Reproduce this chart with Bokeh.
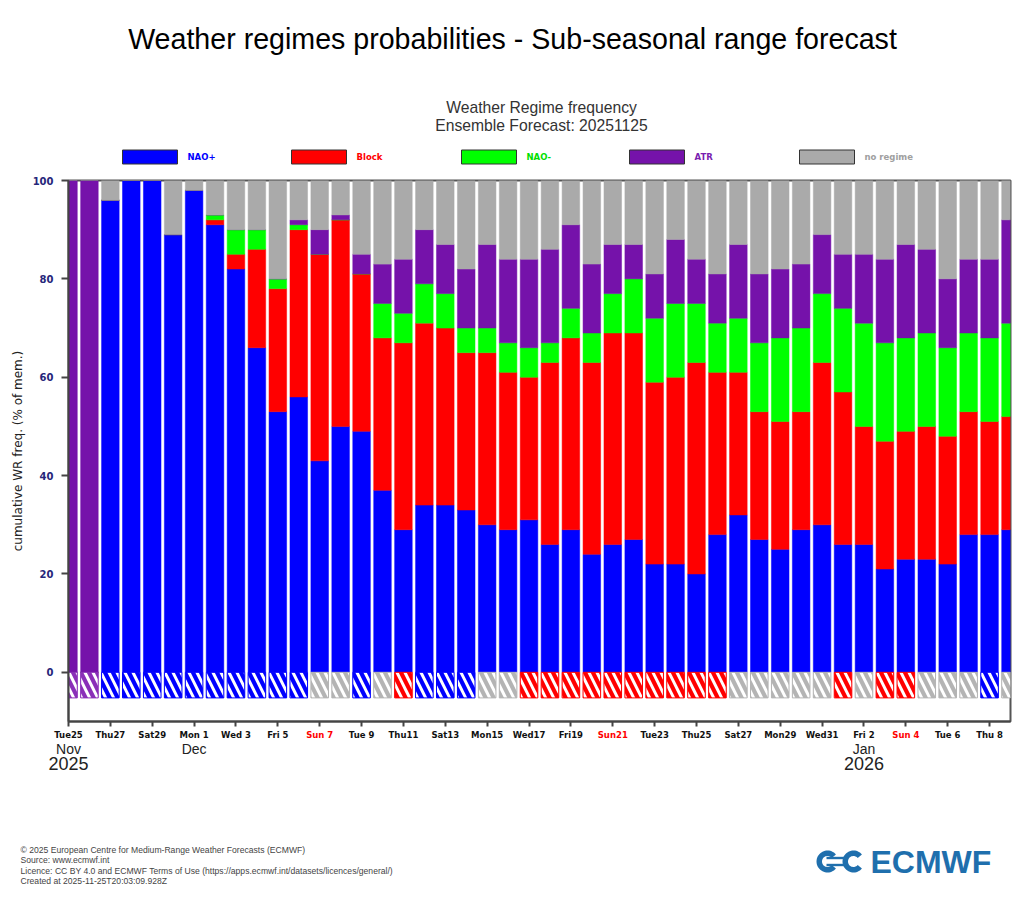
import math
import pandas as pd
from bokeh.plotting import figure
from bokeh.layouts import column, row
from bokeh.models import ColumnDataSource, Range1d, FixedTicker
from bokeh.core.properties import value
from bokeh.embed import file_html
from bokeh.resources import INLINE

# ---------------- data ----------------
dates = pd.date_range("2025-11-25", "2026-01-09", freq="D")
day = [(d - dates[0]).days for d in dates]

nao_plus = [0, 0, 96, 100, 100, 89, 98, 91, 82, 66, 53, 56, 43, 50, 49, 37, 29, 34, 34, 33,
            30, 29, 31, 26, 29, 24, 26, 27, 22, 22, 20, 28, 32, 27, 25, 29, 30, 26, 26, 21,
            23, 23, 22, 28, 28, 29]
block = [0, 0, 0, 0, 0, 0, 0, 1, 3, 20, 25, 34, 42, 42, 32, 31, 38, 37, 36, 32,
         35, 32, 29, 37, 39, 39, 43, 42, 37, 38, 43, 33, 29, 26, 26, 24, 33, 31, 24, 26,
         26, 27, 26, 25, 23, 23]
nao_minus = [0, 0, 0, 0, 0, 0, 0, 1, 5, 4, 2, 1, 0, 0, 0, 7, 6, 8, 7, 5,
             5, 6, 6, 4, 6, 6, 8, 11, 13, 15, 12, 10, 11, 14, 17, 17, 14, 17, 21, 20,
             19, 19, 18, 16, 17, 19]
atr = [100, 100, 0, 0, 0, 0, 0, 0, 0, 0, 0, 1, 5, 1, 4, 8, 11, 11, 10, 12,
       17, 17, 18, 19, 17, 14, 10, 7, 9, 13, 9, 10, 15, 14, 14, 13, 12, 11, 14, 17,
       19, 17, 14, 15, 16, 21]
no_regime = [0, 0, 4, 0, 0, 11, 2, 7, 10, 10, 20, 8, 10, 7, 15, 17, 16, 10, 13, 18,
             13, 16, 16, 14, 9, 17, 13, 13, 19, 12, 16, 19, 13, 19, 18, 17, 11, 15, 15, 16,
             13, 14, 20, 16, 16, 8]
dominant = ["ATR", "ATR", "NAO+", "NAO+", "NAO+", "NAO+", "NAO+", "NAO+", "NAO+", "NAO+",
            "NAO+", "NAO+", "none", "none", "NAO+", "none", "Block", "NAO+", "NAO+", "NAO+",
            "none", "none", "Block", "Block", "Block", "Block", "Block", "Block", "Block", "Block",
            "Block", "Block", "none", "none", "none", "none", "none", "Block", "none", "Block",
            "Block", "none", "none", "none", "NAO+", "none"]

regimes = ["NAO+", "Block", "NAO-", "ATR", "no regime"]
regime_colors = ["#0000ff", "#ff0000", "#00ff00", "#7512aa", "#aaaaaa"]
legend_text_colors = ["#0000ff", "#ff0000", "#00e000", "#7a1fb0", "#a0a0a0"]
hatch_colors = {"NAO+": "#0000ff", "Block": "#ff0000", "NAO-": "#00ff00",
                "ATR": "#8a2fb8", "none": "#b4b4b4"}

tick_days = [0, 2, 4, 6, 8, 10, 12, 14, 16, 18, 20, 22, 24, 26, 28, 30, 32, 34, 36, 38, 40, 42, 44]
tick_labels = ["Tue25", "Thu27", "Sat29", "Mon 1", "Wed 3", "Fri 5", "Sun 7", "Tue 9", "Thu11",
               "Sat13", "Mon15", "Wed17", "Fri19", "Sun21", "Tue23", "Thu25", "Sat27", "Mon29",
               "Wed31", "Fri 2", "Sun 4", "Tue 6", "Thu 8"]
month_days = [0, 6, 38]
month_labels = ["Nov", "Dec", "Jan"]
year_days = [0, 38]
year_labels = ["2025", "2026"]
y_ticks = [0, 20, 40, 60, 80, 100]

footer = ["\u00a9 2025 European Centre for Medium-Range Weather Forecasts (ECMWF)",
          "Source: www.ecmwf.int",
          "Licence: CC BY 4.0 and ECMWF Terms of Use (https://apps.ecmwf.int/datasets/licences/general/)",
          "Created at 2025-11-25T20:03:09.928Z"]

# ---------------- page geometry ----------------
W, H = 1024, 922
FL, FR, FT, FB = 68, 1010, 180, 721      # chart frame edges on the page
TOP_H = 176                               # header strip height
CH_TOP, CH_BOT = FT - TOP_H, 8            # chart borders above / below the frame
CH_H = CH_TOP + (FB - FT) + CH_BOT
BOT_Y0 = TOP_H + CH_H                     # page y where the footer strip starts
BOT_H = H - BOT_Y0
X0, X1 = 0, 45                            # day range shown in the frame
ppd = (FR - FL) / (X1 - X0)


def plain_fig(h, y_top):
    f = figure(width=W, height=h, x_range=Range1d(0, W), y_range=Range1d(y_top + h, y_top),
               x_axis_type=None, y_axis_type=None, output_backend="svg",
               toolbar_location=None, min_border=0)
    f.outline_line_color = None
    f.background_fill_color = "white"
    f.border_fill_color = "white"
    return f


def txt(f, x, y, text, size, color="black", font="Liberation Sans", style="normal",
        align="left", baseline="middle", **kw):
    f.text(x=x, y=y, text=text, text_font=value(font), text_font_size=value(f"{size}px"),
           text_font_style=style, text_color=color, text_align=align,
           text_baseline=baseline, **kw)


# ---------------- header ----------------
top = plain_fig(TOP_H, 0)
txt(top, [512], [38], ["Weather regimes probabilities - Sub-seasonal range forecast"], 28.6,
    align="center")
txt(top, [541, 541], [107, 125], ["Weather Regime frequency", "Ensemble Forecast: 20251125"],
    15.7, color="#333333", align="center")
leg_x = [122, 291, 461, 629, 799]
top.quad(left=leg_x, right=[v + 55 for v in leg_x], top=[149.5] * 5, bottom=[163.5] * 5,
         fill_color=regime_colors, line_color="#333333", line_width=1)
txt(top, [v + 65 for v in leg_x], [156.5] * 5, regimes, 8.5, color=legend_text_colors,
    font="DejaVu Sans", style="bold")

# ---------------- chart ----------------
p = figure(width=W, height=CH_H, x_range=Range1d(X0, X1), y_range=Range1d(-10, 100),
           output_backend="svg", toolbar_location=None,
           min_border_left=FL, min_border_right=W - FR,
           min_border_top=CH_TOP, min_border_bottom=CH_BOT)
p.background_fill_color = "white"
p.border_fill_color = "white"
p.outline_line_color = "#555555"
p.outline_line_width = 2
p.xgrid.visible = False
p.ygrid.visible = False

src = ColumnDataSource(dict(x=day, nao_plus=nao_plus, block=block, nao_minus=nao_minus,
                            atr=atr, no_regime=no_regime))
p.vbar_stack(["nao_plus", "block", "nao_minus", "atr", "no_regime"], x="x", width=0.84,
             fill_color=regime_colors, line_color=regime_colors, line_width=0.5, source=src)

hsrc = ColumnDataSource(dict(x=day, color=[hatch_colors[d] for d in dominant]))
p.vbar(x="x", bottom=-5.2, top=0, width=0.84, fill_color="color", line_color="color",
       line_width=1, hatch_pattern="\\", hatch_color="white", hatch_weight=3,
       hatch_scale=16, source=hsrc)

p.xaxis.ticker = FixedTicker(ticks=tick_days)
p.xaxis.major_label_overrides = {d: "" for d in tick_days}
p.xaxis.major_label_text_font_size = "0px"
p.xaxis.major_label_standoff = 0
p.xaxis.major_tick_out = 5
p.xaxis.major_tick_in = 0
p.xaxis.minor_tick_out = 0
p.xaxis.minor_tick_in = 0
p.xaxis.axis_line_color = "#444444"
p.xaxis.axis_line_width = 2
p.xaxis.major_tick_line_color = "#444444"
p.xaxis.major_tick_line_width = 2

p.yaxis.ticker = FixedTicker(ticks=y_ticks)
p.yaxis.major_tick_out = 7
p.yaxis.major_tick_in = 0
p.yaxis.minor_tick_out = 0
p.yaxis.minor_tick_in = 0
p.yaxis.axis_line_color = "#444444"
p.yaxis.axis_line_width = 2
p.yaxis.major_tick_line_color = "#444444"
p.yaxis.major_tick_line_width = 2
p.yaxis.major_label_text_font = "DejaVu Sans"
p.yaxis.major_label_text_font_style = "bold"
p.yaxis.major_label_text_font_size = "10px"
p.yaxis.major_label_text_color = "#26267a"
p.yaxis.major_label_standoff = 8
p.yaxis.axis_label = "cumulative WR freq. (% of mem.)"
p.yaxis.axis_label_text_font = "DejaVu Sans"
p.yaxis.axis_label_text_font_style = "normal"
p.yaxis.axis_label_text_font_size = "12px"
p.yaxis.axis_label_text_color = "#222222"
p.yaxis.axis_label_standoff = 5

# ---------------- footer strip (tick labels, months, credits, logo) ----------------
bot = plain_fig(BOT_H, BOT_Y0)
bot.extra_x_ranges = {"days": Range1d(X0 - FL / ppd, X1 + (W - FR) / ppd)}
txt(bot, tick_days, [734] * len(tick_days), tick_labels, 8.5,
    color=["#ff0000" if t.startswith("Sun") else "#111111" for t in tick_labels],
    font="DejaVu Sans", style="bold", align="center", x_range_name="days")
txt(bot, month_days, [748] * len(month_days), month_labels, 14, color="#222222",
    align="center", x_range_name="days")
txt(bot, year_days, [763] * len(year_days), year_labels, 18, color="#222222",
    align="center", x_range_name="days")
txt(bot, [20] * len(footer), [849 + i * 10.6 for i in range(len(footer))], footer, 8.6,
    color="#444444")

logo_blue = "#1f6fad"


def arc_poly(cx, cy, r_out, r_in, a0, a1, n=40):
    xs, ys = [], []
    for k in range(n + 1):
        a = math.radians(a0 + (a1 - a0) * k / n)
        xs.append(cx + r_out * math.cos(a))
        ys.append(cy - r_out * math.sin(a))
    for k in range(n + 1):
        a = math.radians(a1 - (a1 - a0) * k / n)
        xs.append(cx + r_in * math.cos(a))
        ys.append(cy - r_in * math.sin(a))
    return xs, ys


logo_xs, logo_ys = [], []
for cx in (827, 853):
    xs, ys = arc_poly(cx, 861, 11, 5.5, 40, 320)
    logo_xs.append(xs)
    logo_ys.append(ys)
for yy in (857.5, 864.5):
    logo_xs.append([826, 847, 847, 826])
    logo_ys.append([yy - 1.2, yy - 1.2, yy + 1.2, yy + 1.2])
bot.patches(xs=logo_xs, ys=logo_ys, fill_color=logo_blue, line_color=None)
txt(bot, [870], [861.5], ["ECMWF"], 32, color=logo_blue, style="bold")

# header and footer strips are wrapped so that their frames are not aligned with the chart's
layout = column(row(top), p, row(bot), spacing=0)
open("out.html", "w").write(file_html(layout, INLINE))
